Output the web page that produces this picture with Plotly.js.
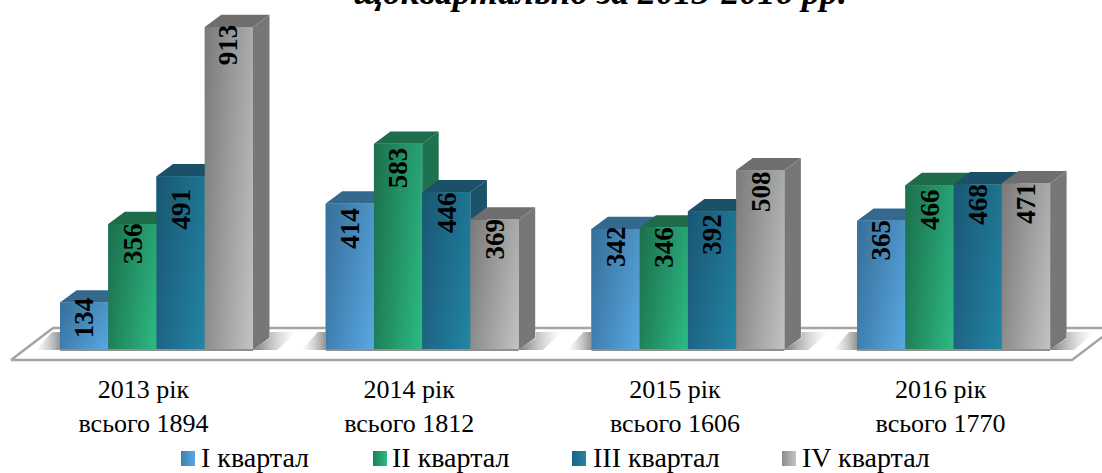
<!DOCTYPE html>
<html><head><meta charset="utf-8">
<script src="https://cdn.plot.ly/plotly-3.0.1.min.js"></script>
<style>html,body{margin:0;padding:0;background:#fff}#c{width:1102px;height:473px}</style>
</head><body><div id="c"></div>
<script>
// ---------- data ----------
const years = ['2013 рік','2014 рік','2015 рік','2016 рік'];
const totals = [1894,1812,1606,1770];
const quarters = ['І квартал','ІІ квартал','ІІІ квартал','ІV квартал'];
const q1 = [134,414,342,365];
const q2 = [356,583,346,466];
const q3 = [491,446,392,468];
const q4 = [913,369,508,471];
const titleText = 'щоквартально за 2013-2016 рр.';

// ---------- style ----------
const series = [q1,q2,q3,q4];
const palette = [
 {dark:'#3f7fb0',light:'#58a9e4',top:'#35688f',side:'#2f5f85',mid:'#4c96cc'},
 {dark:'#1f8058',light:'#2dbb84',top:'#1e6c4a',side:'#1f7250',mid:'#27a06f'},
 {dark:'#1d6484',light:'#2285a5',top:'#1b5168',side:'#1b5269',mid:'#207898'},
 {dark:'#8c8c8c',light:'#c2c4c4',top:'#6e6e6e',side:'#767876',mid:'#a8a8a8'}
];
// label nudges below the bar top, in pixels (as placed in the picture)
const labelNudge = [[-4,5,-2,0],[0,5,0,5],[13,1,4,0],[-2,0,2,0]];
const FONT = '"Liberation Serif", serif';
const W=1102,H=473, base=350, pxPerUnit=0.3538, c0=156.5, step=265.7;
const groupPx=193, barW=(groupPx/step)/4, depthX=16.5/step, depthY=12.3/pxPerUnit;
const X=p=>(p-c0)/step, Y=p=>(base-p)/pxPerUnit;

const traces=[];
const poly=(x,y,extra)=>Object.assign({type:'scatter',mode:'lines',x,y,fill:'toself',line:{width:0},hoverinfo:'skip',showlegend:false},extra);
const solid=c=>({fillcolor:c});
const gradH=(a,b)=>({fillgradient:{type:'horizontal',colorscale:[[0,a],[1,b]]}});
const gradV=(a,b)=>({fillgradient:{type:'vertical',colorscale:[[0,a],[1,b]]}});

// real bars (base marks, values go through the axes)
series.forEach((s,k)=>traces.push({type:'bar',name:quarters[k],x:years.map((_,i)=>i),y:s,marker:{color:palette[k].mid,line:{width:0}},showlegend:false,hoverinfo:'x+y'}));

// floor
traces.push({type:'scatter',mode:'lines',x:[11,53,1114,1072,11].map(X),y:[360,328,328,360,360].map(Y),line:{color:'#a4a4a4',width:2.4},hoverinfo:'skip',showlegend:false});

// floor shadows around each group
years.forEach((_,i)=>{
  const L=c0+i*step-groupPx/2, R=L+groupPx;
  traces.push(poly([L-24,L-8,L,L,L-24].map(X),[350,332,332,350,350].map(Y),gradH('rgba(170,170,170,0)','rgba(120,120,120,0.8)')));
  traces.push(poly([R,R+17,R+17,R+44,R+24,R].map(X),[350,338,332,332,350,350].map(Y),gradH('rgba(105,105,105,0.9)','rgba(190,190,190,0)')));
});

// 3D boxes, painted left to right
years.forEach((_,i)=>{
  series.forEach((s,k)=>{
    const v=s[i], a=i+(k-2)*barW, b=a+barW, p=palette[k];
    traces.push(poly([a,a+depthX,b+depthX,b,a],[v,v+depthY,v+depthY,v,v],solid(p.top)));
    traces.push(poly([b,b+depthX,b+depthX,b,b],[0,depthY,v+depthY,v,0],solid(p.side)));
    traces.push(poly([a,b,b,a,a],[0,0,v,v,0],gradH(p.dark,p.light)));
    traces.push(poly([a,b,b,a,a],[0,0,v,v,0],gradV('rgba(0,0,0,0)','rgba(0,0,0,0.13)')));
  });
  // bottom edge of the group
  traces.push({type:'scatter',mode:'lines',x:[i-2*barW,i+2*barW],y:[0,0],line:{color:'#8f8f8f',width:2},hoverinfo:'skip',showlegend:false});
});

// legend swatches
const swatchX=[181,373,572,782], legendTextX=[200,391,592,801];
swatchX.forEach((sx,k)=>{
  traces.push(poly([sx,sx+14,sx+14,sx,sx].map(X),[451,451,466,466,451].map(Y),gradH(palette[k].dark,palette[k].light)));
});

const annotations=[];
years.forEach((_,i)=>series.forEach((s,k)=>{
  annotations.push({x:i+(k-1.5)*barW,y:s[i],xref:'x',yref:'y',text:'<b>'+s[i]+'</b>',textangle:-90,showarrow:false,
    xanchor:'center',yanchor:'top',yshift:-labelNudge[k][i]+2,borderpad:0,font:{family:FONT,size:27,color:'#000'}});
}));
quarters.forEach((q,k)=>annotations.push({x:X(legendTextX[k]),y:Y(457),xref:'x',yref:'y',text:q,showarrow:false,xanchor:'left',yanchor:'middle',borderpad:0,font:{family:FONT,size:28,color:'#000'}}));

const layout={
  width:W,height:H,margin:{l:0,r:0,t:0,b:0},paper_bgcolor:'#fff',plot_bgcolor:'#fff',showlegend:false,
  barmode:'group',bargap:1-groupPx/step,bargroupgap:0,
  title:{text:'<b><i>'+titleText+'</i></b>',x:600/W,xanchor:'center',y:1-4/H,yanchor:'bottom',pad:{t:0,b:0,l:0,r:0},font:{family:FONT,size:35.8,color:'#000'}},
  xaxis:{range:[X(0),X(W)],domain:[0,1],anchor:'free',position:(H-371)/H,tickmode:'array',tickvals:years.map((_,i)=>i-13/step),
    ticktext:years.map((y,i)=>y+'<br>всього '+totals[i]),showgrid:false,zeroline:false,showline:false,ticks:'',
    tickangle:0,tickfont:{family:FONT,size:26,color:'#000'},fixedrange:true},
  yaxis:{range:[Y(H),Y(0)],domain:[0,1],visible:false,showgrid:false,zeroline:false,fixedrange:true},
  annotations
};
Plotly.newPlot('c',traces,layout,{displayModeBar:false,staticPlot:true});
</script></body></html>
